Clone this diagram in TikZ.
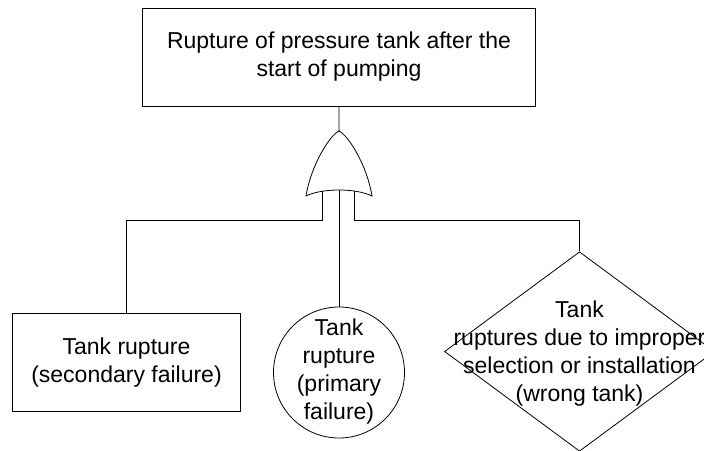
\documentclass[tikz,border=0pt]{standalone}
\usepackage{fontspec}
\setmainfont{Liberation Sans}
\usetikzlibrary{shapes.geometric}

\tikzset{
  wire/.style={draw=black, line width=0.8pt},
  eventbox/.style={wire, rectangle, inner sep=0pt},
  label text/.style={align=center, font=\fontsize{23}{28}\selectfont, inner sep=0pt},
}

\begin{document}
\begin{tikzpicture}[x=1pt, y=-1pt, line join=miter]
  \useasboundingbox (0,0) rectangle (704,450);
  \fill[white] (0,0) rectangle (704,450);
  \clip (0,0) rectangle (704,450);

  % top event
  \node[eventbox, minimum width=392.3pt, minimum height=98.4pt] (top) at (338.9,57.5) {};
  \node[label text] (toptxt) at (339,56.5) {Rupture of pressure tank after the\\start of pumping};

  % OR gate
  \coordinate (apex) at (339,131);
  \coordinate (gl) at (306,196);
  \coordinate (gr) at (372,196);
  \coordinate (inL) at (322.3,191.1);
  \coordinate (inC) at (339,190);
  \coordinate (inR) at (354.5,191.1);
  \draw[wire] (gl) .. controls (311,165) and (330,135) .. (apex)
              .. controls (348,135) and (367,165) .. (gr)
              .. controls (356,188) and (322,188) .. (gl) -- cycle;

  % basic / undeveloped events
  \node[eventbox, minimum width=228.4pt, minimum height=98.7pt] (sec) at (126.5,362.4) {};
  \node[label text] (sectxt) at (126.5,363) {Tank rupture\\(secondary failure)};

  \node[wire, circle, minimum size=131pt, inner sep=0pt] (prim) at (339,372.5) {};
  \node[label text] (primtxt) at (339,372) {Tank\\rupture\\(primary\\failure)};

  \node[wire, diamond, minimum width=270pt, minimum height=199.5pt, inner sep=0pt] (wrong) at (579.5,351.5) {};
  \node[label text] (wrongtxt) at (579.5,354) {Tank\\ruptures due to improper\\selection or installation\\(wrong tank)};

  % connectors
  \draw[wire] (top.south) -- (apex);
  \draw[wire] (inL) -- ++(0,29.6) -| (sec.north);
  \draw[wire] (inC) -- (prim.north);
  \draw[wire] (inR) -- ++(0,29.6) -| (wrong.north);
\end{tikzpicture}
\end{document}
